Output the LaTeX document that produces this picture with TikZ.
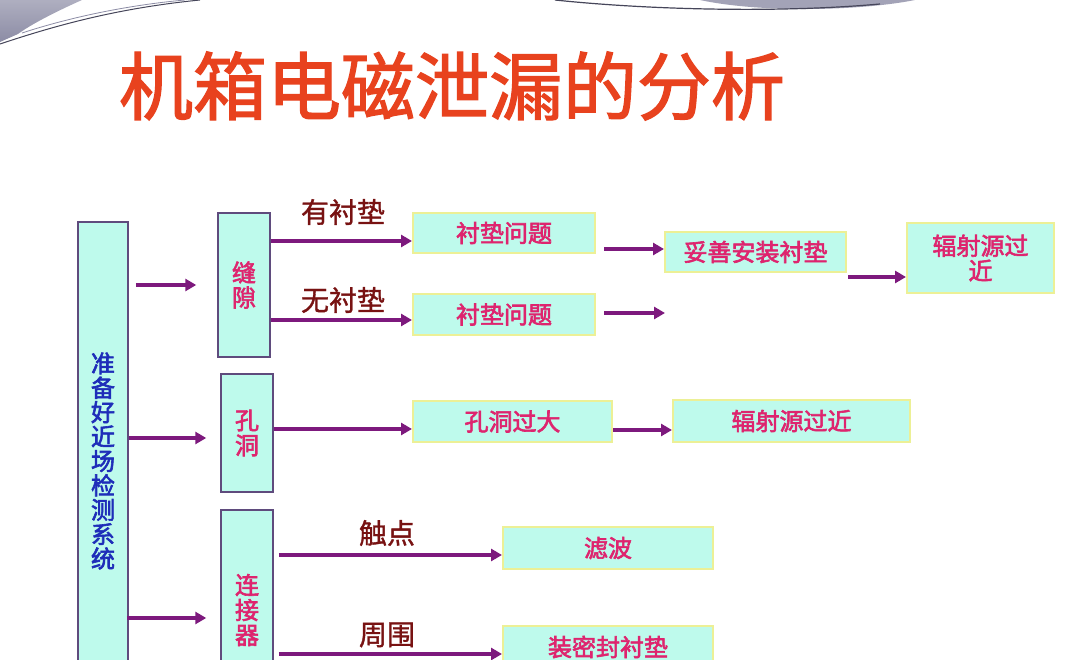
\documentclass[tikz,border=0pt]{standalone}
\usepackage{fontspec}
\newfontfamily\cjk{Noto Sans CJK SC}
\newfontfamily\cjkm[FakeBold=2.5]{Noto Sans CJK SC}
\newfontfamily\cjkl[FakeBold=1.2]{Noto Sans CJK SC}
\newfontfamily\cjkt[FakeBold=1.8]{Noto Sans CJK SC}
\usetikzlibrary{arrows.meta}
\definecolor{titlecol}{RGB}{232,66,30}
\definecolor{boxfill}{RGB}{190,250,236}
\definecolor{lborder}{RGB}{95,75,125}
\definecolor{rborder}{RGB}{236,240,150}
\definecolor{magtext}{RGB}{222,36,110}
\definecolor{bluetext}{RGB}{30,45,185}
\definecolor{labred}{RGB}{120,18,18}
\definecolor{arrcol}{RGB}{125,25,125}
\definecolor{decogray}{RGB}{140,140,165}
\definecolor{decodark}{RGB}{70,70,90}
\tikzset{
  lbox/.style={draw=lborder, line width=1.5pt, fill=boxfill, inner sep=0pt,
    text=magtext, font=\cjkm\fontsize{24}{25}\selectfont, align=center},
  rbox/.style={draw=rborder, line width=2pt, fill=boxfill, inner sep=0pt,
    text=magtext, font=\cjkm\fontsize{24}{25}\selectfont, align=center},
  ltext/.style={text=bluetext, font=\cjkm\fontsize{24}{24.4}\selectfont, align=center, inner sep=0pt},
  lab/.style={text=labred, font=\cjkl\fontsize{28}{30}\selectfont, inner sep=0pt},
  ttl/.style={text=titlecol, font=\cjkt\fontsize{74}{80}\selectfont, inner sep=0pt},
  arr/.style={draw=arrcol, line width=4pt, -{Triangle[length=11pt,width=12pt]}}
}
\begin{document}
\begin{tikzpicture}[x=1pt,y=-1pt]
\clip (0,0) rectangle (1080,660);
\fill[white] (0,0) rectangle (1080,660);
% decorations
\shade[top color=decogray!70, bottom color=decogray] (0,0) -- (82,0) .. controls (55,12) and (30,25) .. (18,34) -- (0,42) -- cycle;
\draw[decodark, line width=1pt] (0,44) .. controls (60,24) and (120,8) .. (200,0);
\draw[decogray, line width=0.8pt] (22,33) .. controls (80,14) and (140,4) .. (185,0);
\fill[decogray!80] (700,0) .. controls (760,13) and (860,11) .. (915,0) -- cycle;
\draw[decodark, line width=1.2pt] (555,0) .. controls (650,10) and (780,13) .. (880,4);
% title
\node[ttl] (T) at (452,86) {机箱电磁泄漏的分析};
% left column
\node[lbox, minimum width=50, minimum height=460] (L) at (103,452) {};
\node[ltext] (Lt) at (103,461) {准\\备\\好\\近\\场\\检\\测\\系\\统};
\node[lbox, minimum width=52, minimum height=144] (G) at (244,285) {缝\\隙};
\node[lbox, minimum width=52, minimum height=118] (H) at (247,433) {孔\\洞};
\node[lbox, minimum width=52, minimum height=200] (C) at (247,610) {连\\接\\器};
% right boxes
\node[rbox, minimum width=182, minimum height=40] (P1) at (504,233) {衬垫问题};
\node[rbox, minimum width=182, minimum height=41] (P2) at (504,314.5) {衬垫问题};
\node[rbox, minimum width=181, minimum height=40] (Q) at (755.5,252) {妥善安装衬垫};
\node[rbox, minimum width=147, minimum height=70] (R) at (980.5,258) {辐射源过\\近};
\node[rbox, minimum width=199, minimum height=41] (K) at (512.5,421.5) {孔洞过大};
\node[rbox, minimum width=237, minimum height=42] (S) at (791.5,421) {辐射源过近};
\node[rbox, minimum width=210, minimum height=42] (F) at (608,548) {滤波};
\node[rbox, minimum width=210, minimum height=42] (M) at (608,647) {装密封衬垫};
\coordinate (e1) at (665,313);
% labels
\node[lab] (l1) at (343,212) {有衬垫};
\node[lab] (l2) at (343,300) {无衬垫};
\node[lab] (l3) at (387,533) {触点};
\node[lab] (l4) at (387,635) {周围};
% arrows
\draw[arr] ([xshift=7]L.east |- G.west) -- ([xshift=-21]G.west);
\draw[arr] (L.east |- 0,438) -- ([xshift=-14]H.west |- 0,438);
\draw[arr] ([xshift=-2]L.east |- 0,618) -- ([xshift=-14]C.west |- 0,618);
\draw[arr] (G.east |- 0,241) -- (P1.west |- 0,241);
\draw[arr] (G.east |- 0,320) -- (P2.west |- 0,320);
\draw[arr] ([xshift=8]P1.east |- 0,249) -- (Q.west |- 0,249);
\draw[arr] ([xshift=8]P2.east |- 0,313) -- (e1);
\draw[arr] ([xshift=1]Q.east |- 0,277) -- (R.west |- 0,277);
\draw[arr] (H.east |- 0,429) -- (K.west |- 0,429);
\draw[arr] (K.east |- 0,430) -- (S.west |- 0,430);
\draw[arr] ([xshift=5]C.east |- 0,555) -- (F.west |- 0,555);
\draw[arr] ([xshift=5]C.east |- 0,654) -- (M.west |- 0,654);
\end{tikzpicture}
\end{document}
